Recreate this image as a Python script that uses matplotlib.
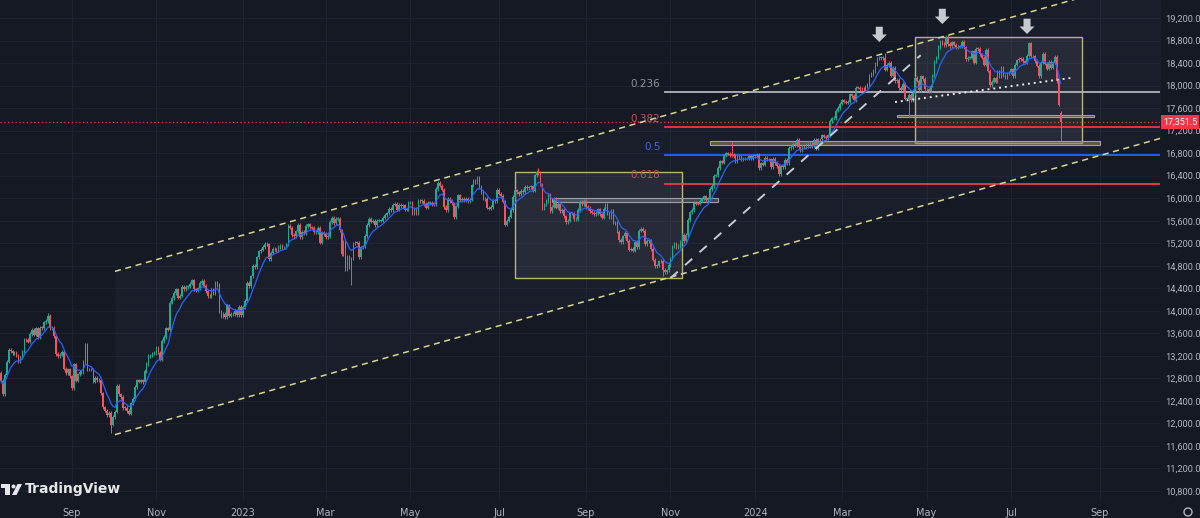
import numpy as np
import pandas as pd
import matplotlib
matplotlib.use('Agg')
from matplotlib import pyplot as plt
from matplotlib import font_manager
from matplotlib.patches import Rectangle, Polygon, Ellipse
from matplotlib.ticker import FuncFormatter

# daily closes, one list per month (weekdays)
jul22 = [12756, 12520, 12865, 13096, 13308, 13282, 13247, 13254, 13211, 13097, 13166, 13282, 13484]
aug22 = [13479, 13449, 13587, 13662, 13574, 13688, 13535, 13700, 13695, 13795, 13816, 13910, 13697, 13697,
         13544, 13230, 13194, 13220, 13271, 12971, 12893, 12961, 12835]
sep22 = [12631, 13050, 12761, 12871, 12916, 12904, 13088, 13403, 12956, 12957, 12956, 12741, 12803, 12767,
         12768, 12531, 12284, 12227, 12140, 12184, 11976, 12114]
oct22 = [12209, 12670, 12517, 12471, 12273, 12272, 12220, 12172, 12356, 12438, 12649, 12765, 12741, 12767,
         12731, 12931, 13053, 13195, 13211, 13243, 13253]
nov22 = [13338, 13257, 13130, 13460, 13533, 13688, 13666, 14146, 14224, 14313, 14379, 14234, 14267, 14431,
         14380, 14423, 14428, 14484, 14541, 14383, 14355, 14397]
dec22 = [14490, 14529, 14448, 14344, 14261, 14264, 14371, 14306, 14497, 14460, 13987, 13893, 13943, 13885,
         14098, 13914, 13941, 13941, 13995, 13926, 14071, 13924]
jan23 = [14069, 14181, 14490, 14436, 14610, 14792, 14775, 14948, 15058, 15087, 15135, 15187, 15181, 14920,
         15033, 15103, 15093, 15081, 15132, 15150, 15126, 15128]
feb23 = [15181, 15509, 15476, 15345, 15321, 15412, 15523, 15308, 15397, 15380, 15506, 15534, 15482, 15478,
         15398, 15400, 15475, 15210, 15381, 15365]
mar23 = [15305, 15328, 15578, 15654, 15560, 15632, 15633, 15428, 15000, 15233, 14735, 14967, 14768, 14933,
         15196, 15216, 15210, 14957, 15128, 15142, 15329, 15522, 15629]
apr23 = [15581, 15603, 15520, 15598, 15598, 15598, 15655, 15704, 15730, 15808, 15790, 15883, 15896, 15796,
         15882, 15864, 15872, 15796, 15801, 15922]
may23 = [15922, 15726, 15815, 15734, 15961, 15953, 15955, 15897, 15834, 15914, 15917, 15898, 15897, 16163,
         16275, 16224, 16153, 15843, 15793, 15984, 15953, 15909, 15664]
jun23 = [15853, 16051, 15964, 15992, 15960, 15990, 15950, 15973, 16230, 16311, 16290, 16358, 16201, 16111,
         15989, 15988, 15830, 15813, 15846, 15949, 15946, 16148]
jul23 = [16081, 16039, 15938, 15529, 15603, 15673, 15790, 16023, 16141, 16105, 16068, 16125, 16108, 16204,
         16177, 16191, 16211, 16131, 16406, 16469, 16447]
aug23 = [16240, 15820, 15893, 15952, 16061, 15775, 15852, 15997, 15832, 15904, 15767, 15789, 15676, 15574,
         15603, 15729, 15728, 15622, 15632, 15792, 15930, 15892, 15947]
sep23 = [15840, 15824, 15772, 15741, 15719, 15740, 15800, 15715, 15654, 15805, 15893, 15727, 15664, 15782,
         15572, 15557, 15406, 15256, 15218, 15323, 15387]
oct23 = [15247, 15085, 15099, 15070, 15230, 15128, 15423, 15460, 15425, 15187, 15237, 15252, 15095, 14910,
         14798, 14800, 14880, 14892, 14731, 14687, 14716, 14810]
nov23 = [14924, 15143, 15189, 15136, 15153, 15229, 15353, 15234, 15345, 15615, 15748, 15787, 15919, 15902,
         15901, 15958, 15995, 16030, 15967, 15993, 16166, 16215]
dec23 = [16398, 16405, 16533, 16656, 16629, 16759, 16794, 16792, 16767, 16766, 16751, 16650, 16744, 16733,
         16687, 16706, 16706, 16706, 16742, 16701, 16752]
jan24 = [16752, 16769, 16538, 16617, 16594, 16716, 16689, 16690, 16547, 16704, 16622, 16572, 16431, 16567,
         16555, 16683, 16627, 16889, 16907, 16961, 16942, 17037, 16904]
feb24 = [16859, 16918, 16904, 16955, 16922, 16963, 16927, 17037, 16881, 17047, 17046, 17117, 17093, 17068,
         17118, 17370, 17419, 17424, 17556, 17601, 17678]
mar24 = [17735, 17716, 17698, 17716, 17842, 17815, 17747, 17965, 17961, 17942, 17937, 17933, 17987, 18015,
         18179, 18206, 18261, 18384, 18477, 18492, 18492]
apr24 = [18492, 18283, 18367, 18403, 18175, 18318, 18077, 18097, 17955, 17930, 18027, 17767, 17770, 17838,
         17737, 17861, 18137, 18089, 17917, 18162, 18118, 17932]
may24 = [17932, 17896, 18001, 18175, 18430, 18498, 18686, 18773, 18742, 18716, 18869, 18738, 18704, 18768,
         18726, 18680, 18691, 18693, 18774, 18677, 18473, 18497, 18498]
jun24 = [18608, 18406, 18653, 18652, 18557, 18494, 18369, 18630, 18265, 18002, 18068, 18131, 18067, 18254,
         18164, 18325, 18177, 18155, 18211, 18235]
jul24 = [18291, 18164, 18374, 18450, 18475, 18472, 18430, 18407, 18534, 18748, 18518, 18518, 18437, 18354,
         18171, 18407, 18558, 18387, 18298, 18417, 18320, 18411, 18508]
aug24 = [18083, 17661, 17351.5]

closes = (jul22 + aug22 + sep22 + oct22 + nov22 + dec22 + jan23 + feb23 + mar23 + apr23 + may23 + jun23
          + jul23 + aug23 + sep23 + oct23 + nov23 + dec23 + jan24 + feb24 + mar24 + apr24 + may24 + jun24
          + jul24 + aug24)
first_open = 12900
open_gaps = {'2024-08-05': 17520}
wick_highs = {'2022-08-16': 13960, '2023-07-31': 16530, '2023-12-14': 17003, '2024-04-02': 18570,
              '2024-05-15': 18892, '2024-07-12': 18780}
wick_lows = {'2022-09-29': 11830, '2023-03-20': 14460, '2023-10-26': 14620, '2024-04-18': 17440,
             '2024-08-05': 17024}

# drawings (dates / prices)
channel_dates = ['2022-10-03', '2024-08-05']
channel_lower = [11800, 16560]
channel_width = 2900
box1 = ('2023-07-13', '2023-11-09', 14580, 16470)
box2 = ('2024-04-23', '2024-08-20', 16980, 18860)
gray_band = ('2023-08-09', '2023-12-05', 15925, 16005)
olive_bands = [('2023-11-29', '2024-09-02', 16948, 17012), ('2024-04-10', '2024-08-28', 17437, 17480)]
fib_start = '2023-10-27'
fib_high, fib_low = 18892, 14630
fib_ratios = [0.236, 0.382, 0.5, 0.618]
fib_labels = ['0.236', '0.382', '0.5', '0.618']
trend_pts = [('2023-11-01', 14580), ('2024-04-26', 18540)]
neck_pts = [('2024-04-09', 17708), ('2024-08-12', 18134)]
arrow_tips = [('2024-03-28', 18774), ('2024-05-13', 19093), ('2024-07-11', 18916)]
tick_dates = ['2022-09-01', '2022-11-01', '2023-01-01', '2023-03-01', '2023-05-01', '2023-07-01',
              '2023-09-01', '2023-11-01', '2024-01-01', '2024-03-01', '2024-05-01', '2024-07-01', '2024-09-01']
tick_labels = ['Sep', 'Nov', '2023', 'Mar', 'May', 'Jul', 'Sep', 'Nov', '2024', 'Mar', 'May', 'Jul', 'Sep']
price_ticks = list(range(10800, 19201, 400))

BG = '#151924'
GRID = '#1e2230'
TXT = '#b2b5be'
UP = '#22ab94'
DOWN = '#f7525f'
W, H = 1200, 518

# narrow font for the price scale if it is there
installed = {f.name for f in font_manager.fontManager.ttflist}
if 'Liberation Sans Narrow' in installed:
    scale_font, scale_size = 'Liberation Sans Narrow', 7.4
else:
    scale_font, scale_size = 'Roboto', 6.7

cal = pd.bdate_range('2022-07-13', '2024-12-31')


def bar(d):
    return int(cal.searchsorted(pd.Timestamp(d)))


c = np.array(closes, dtype=float)
x = np.arange(len(c))
o = np.r_[first_open, c[:-1]]
for d, v in open_gaps.items():
    o[bar(d)] = v
pad = 30
hi = np.maximum(o, c) + pad
lo = np.minimum(o, c) - pad
for d, v in wick_highs.items():
    hi[bar(d)] = v
for d, v in wick_lows.items():
    lo[bar(d)] = v

fig = plt.figure(figsize=(W / 100, H / 100), dpi=100, facecolor=BG)
ax = fig.add_axes([0, 18 / H, 1160 / W, 500 / H], facecolor=BG)
xmin, xmax = -0.36, 588.5

# channel
cx = np.array([bar(d) for d in channel_dates], dtype=float)
slope = (channel_lower[1] - channel_lower[0]) / (cx[1] - cx[0])
chx = np.array([cx[0], xmax + 5])
ch_lo = channel_lower[0] + slope * (chx - cx[0])
ch_hi = ch_lo + channel_width
ax.fill_between(chx, ch_lo, ch_hi, color='#8ea2d8', alpha=0.045, lw=0, zorder=1)
for line in (ch_lo, ch_hi):
    ax.plot(chx, line, color='#d9d68e', lw=1.1, ls=(0, (4, 3)), zorder=6)

# boxes
for b in (box1, box2):
    ax.add_patch(Rectangle((bar(b[0]), b[2]), bar(b[1]) - bar(b[0]), b[3] - b[2],
                           fc=(1, 1, 1, 0.06), ec='#b9b574', lw=1, zorder=2))
g = gray_band
ax.add_patch(Rectangle((bar(g[0]), g[2]), bar(g[1]) - bar(g[0]), g[3] - g[2],
                       fc=(1, 1, 1, 0.18), ec='#9ea0a8', lw=0.8, zorder=2))
for b in olive_bands:
    ax.add_patch(Rectangle((bar(b[0]), b[2]), bar(b[1]) - bar(b[0]), b[3] - b[2],
                           fc=(0.55, 0.55, 0.36, 0.55), ec='#a8a56e', lw=0.8, zorder=2))

# fib levels
fib_colors = ['#b2b5be', '#f23645', '#2962ff', '#e0404f']
fib_text = ['#8f929b', '#c9505b', '#3f66dc', '#b9535d']
fx = bar(fib_start)
for r, lab, lc, tc in zip(fib_ratios, fib_labels, fib_colors, fib_text):
    lvl = fib_high - r * (fib_high - fib_low)
    ax.plot([fx, xmax + 5], [lvl, lvl], color=lc, lw=1.3, zorder=3)
    ax.annotate(lab, (fx, lvl), xytext=(-3, 6), textcoords='offset points', ha='right', va='center',
                color=tc, fontsize=7.5)

# candles
up = c >= o
body = np.maximum(np.abs(c - o), 10)
cols = np.where(up, UP, DOWN)
ax.vlines(x, lo, hi, colors=cols, lw=0.7, zorder=4)
ax.bar(x, body, bottom=np.minimum(o, c), width=0.8, color=cols, lw=0, zorder=4)
ema = pd.Series(c).ewm(span=9, adjust=False).mean()
ax.plot(x, ema, color='#2962ff', lw=0.9, zorder=5)

# trend lines
ax.plot([bar(d) for d, _ in trend_pts], [p for _, p in trend_pts], color='#c9cbd3', lw=1.4,
        ls=(0, (5, 5)), zorder=6)
ax.plot([bar(d) for d, _ in neck_pts], [p for _, p in neck_pts], color='#e6e7ea', lw=1.4,
        ls=(0, (1, 2)), zorder=6)

# arrows
for d, p in arrow_tips:
    ax.annotate('', xy=(bar(d), p), xytext=(0, 11), textcoords='offset points',
                arrowprops=dict(arrowstyle='simple,head_length=0.45,head_width=0.9,tail_width=0.42',
                                fc='#c7c9d1', ec='none', mutation_scale=12, shrinkA=0, shrinkB=0))

# last price
last = c[-1]
ax.axhline(last, color='#f23645', lw=0.9, ls=(0, (1, 2)), zorder=3)
ax.text(1.0 + 3 / 1160, last, f'{last:,.1f}', transform=ax.get_yaxis_transform(), ha='left',
        va='center', color='white', fontsize=scale_size - 0.3, family=scale_font, clip_on=False,
        zorder=10, bbox=dict(boxstyle='square,pad=0.25', fc='#f23645', ec='none'))

# axes
ax.set_xlim(xmin, xmax)
ax.set_ylim(10639, 19520)
ax.set_xticks([bar(d) for d in tick_dates])
ax.set_xticklabels(tick_labels)
ax.set_yticks(price_ticks)
ax.yaxis.set_major_formatter(FuncFormatter(lambda v, p: f'{v:,.1f}'))
ax.yaxis.tick_right()
ax.tick_params(axis='both', length=0, labelcolor=TXT, labelsize=7)
ax.tick_params(axis='y', pad=4, labelsize=scale_size)
ax.tick_params(axis='x', pad=6)
for t in ax.get_yticklabels():
    t.set_family(scale_font)
ax.grid(True, color=GRID, lw=0.8, zorder=0)
ax.set_axisbelow(True)
for s in ax.spines.values():
    s.set_visible(False)


def fp(px, py):
    return (px / W, 1 - py / H)


# TradingView logo
fig.add_artist(Rectangle(fp(1, 488), 9 / W, 4 / H, transform=fig.transFigure, fc='#e6e7ea', ec='none'))
fig.add_artist(Rectangle(fp(5, 495), 5 / W, 11 / H, transform=fig.transFigure, fc='#e6e7ea', ec='none'))
fig.add_artist(Ellipse(fp(13.5, 486.5), 4 / W, 4 / H, transform=fig.transFigure, fc='#e6e7ea', ec='none'))
fig.add_artist(Polygon([fp(12, 495), fp(16.5, 495), fp(22, 484), fp(17.5, 484)], closed=True,
                       transform=fig.transFigure, fc='#e6e7ea', ec='none'))
fig.text(25 / W, 1 - 489.5 / H, 'TradingView', color='#e6e7ea', fontsize=10, fontweight='bold',
         ha='left', va='center')
fig.add_artist(Ellipse(fp(1188, 512), 8 / W, 8 / H, transform=fig.transFigure, fill=False,
                       ec=TXT, lw=1))

fig.savefig('out.png', dpi=100, facecolor=BG)
